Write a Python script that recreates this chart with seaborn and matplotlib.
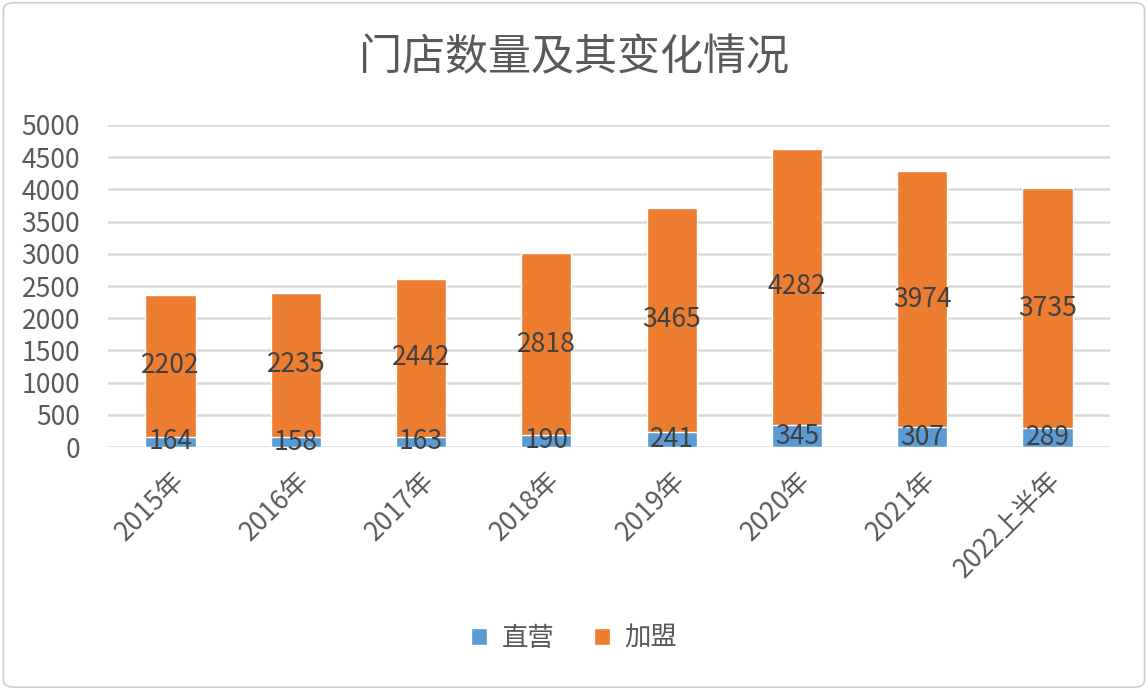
import numpy as np
import pandas as pd
import matplotlib
matplotlib.use('Agg')
import matplotlib.pyplot as plt
import seaborn as sns
from matplotlib.patches import FancyBboxPatch, Patch

sns.set_style('white')
plt.rcParams['font.family'] = ['Noto Sans CJK SC', 'DejaVu Sans']

# data
years = ['2015年', '2016年', '2017年', '2018年', '2019年', '2020年', '2021年', '2022上半年']
direct = [164, 158, 163, 190, 241, 345, 307, 289]
franchise = [2202, 2235, 2442, 2818, 3465, 4282, 3974, 3735]

df = pd.DataFrame({'year': years, 'direct': direct, 'franchise': franchise})
df['total'] = df['direct'] + df['franchise']

blue = '#5b9bd5'
orange = '#ed7d31'
txt = '#404040'
grid = '#d9d9d9'

fig = plt.figure(figsize=(11.48, 6.90), dpi=100)
ax = fig.add_axes([0.094, 0.352, 0.873, 0.467])

# stacked bars: totals in orange, direct stores drawn over in blue
sns.barplot(data=df, x='year', y='total', color=orange, width=0.4,
            saturation=1, ax=ax, zorder=3)
sns.barplot(data=df, x='year', y='direct', color=blue, width=0.4,
            saturation=1, ax=ax, zorder=4)

ax.set_ylim(0, 5000)
ax.set_yticks(np.arange(0, 5001, 500))
ax.set_xlim(-0.5, len(years) - 0.5)
ax.yaxis.grid(True, color=grid, linewidth=1.8, zorder=0)
ax.set_axisbelow(True)
sns.despine(ax=ax, left=True, bottom=True)
ax.set_xlabel('')
ax.set_ylabel('')
ax.tick_params(axis='both', length=0, labelsize=19, colors='#595959')
ax.tick_params(axis='y', pad=20)
plt.setp(ax.get_xticklabels(), rotation=45, ha='right', rotation_mode='anchor')
ax.tick_params(axis='x', pad=14)

# value labels
for i, row in df.iterrows():
    ax.text(i, row['direct'] + row['franchise'] / 2, str(row['franchise']),
            ha='center', va='center', fontsize=19, color=txt, zorder=5)
    ax.text(i, row['direct'] / 2, str(row['direct']),
            ha='center', va='center', fontsize=19, color=txt, zorder=5)

fig.text(0.5, 0.915, '门店数量及其变化情况', ha='center', va='center',
         fontsize=31, color='#595959')

handles = [Patch(facecolor=blue, label='直营'), Patch(facecolor=orange, label='加盟')]
fig.legend(handles=handles, loc='center', bbox_to_anchor=(0.5, 0.075), ncol=2,
           frameon=False, fontsize=19, handlelength=0.6, handleheight=0.6,
           handletextpad=0.55, columnspacing=1.5, labelcolor='#595959')

# outer border
border = FancyBboxPatch((0.003, 0.004), 0.994, 0.992, boxstyle='round,pad=0,rounding_size=0.01',
                        transform=fig.transFigure, fill=False, edgecolor='#d0d0d0',
                        linewidth=1.2)
fig.patches.append(border)

fig.savefig('out.png', dpi=100)
